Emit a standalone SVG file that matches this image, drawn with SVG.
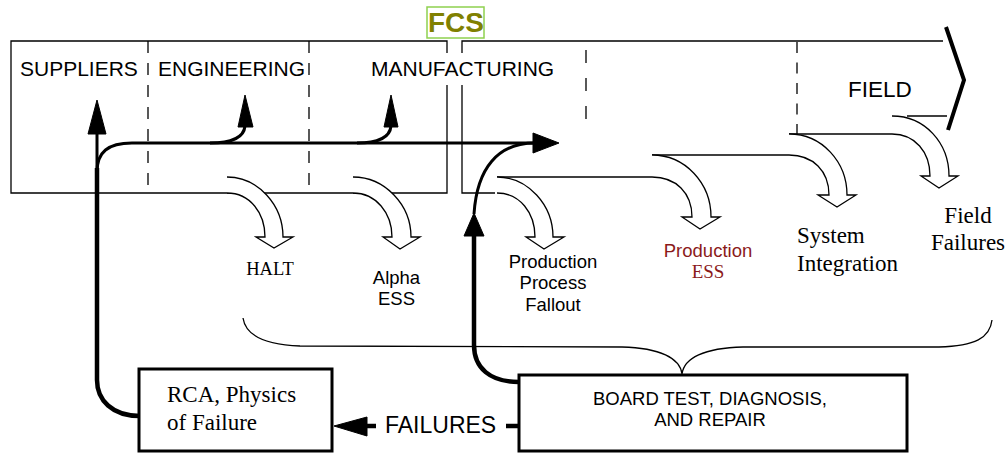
<svg xmlns="http://www.w3.org/2000/svg" width="1007" height="454" viewBox="0 0 1007 454">
<style>
.ln{fill:none;stroke:#000;stroke-width:1.3}
.dash{fill:none;stroke:#000;stroke-width:1.3;stroke-dasharray:12 10}
.thk{fill:none;stroke:#000;stroke-width:3}
.thk2{fill:none;stroke:#000;stroke-width:4.5}
.hd{fill:#000;stroke:#000;stroke-width:1}
.ha{fill:#fff;stroke:#000;stroke-width:1.3;stroke-linejoin:miter}
.sans{font-family:"Liberation Sans",Arial,sans-serif;fill:#000}
.serif{font-family:"Liberation Serif","Times New Roman",serif;fill:#000}
.box{fill:#fff;stroke:#000;stroke-width:3}
</style>
<rect width="1007" height="454" fill="#fff"/>

<g id="phases">
  <path class="ln" d="M447,53 L447,41 L11,41 L11,193 L447,193 L447,85"/>
  <path class="dash" d="M148,41 L148,193"/>
  <path class="dash" d="M309,41 L309,193"/>
  <path class="ln" d="M462,53 L462,41 L943,41"/>
  <path class="ln" d="M462,85 L462,193 L495,193"/>
  <path class="ln" d="M497,177 L652,177"/>
  <path class="ln" d="M652,155 L789,155"/>
  <path class="ln" d="M789,134 L892,134"/>
  <path class="ln" d="M907,116 L947,116"/>
  <path class="dash" d="M586,50 L586,119" style="stroke-dasharray:13 15"/>
  <path class="dash" d="M797,42 L797,134" style="stroke-dasharray:11 9.5"/>
  <path fill="none" stroke="#000" stroke-width="4" d="M946,27 L964,80 L948,130"/>
  <text class="sans" x="20" y="76" font-size="21">SUPPLIERS</text>
  <text class="sans" x="158" y="76" font-size="21">ENGINEERING</text>
  <text class="sans" x="371" y="76" font-size="21">MANUFACTURING</text>
  <text class="sans" x="848" y="97" font-size="22.5">FIELD</text>
</g>

<g id="fcs">
  <rect x="427" y="7" width="57" height="31" fill="#fff" stroke="#8fd14f" stroke-width="1.5"/>
  <text x="456" y="31.5" text-anchor="middle" font-family="'Liberation Sans',Arial,sans-serif" font-weight="bold" font-size="28" fill="#808000">FCS</text>
</g>

<g id="stage-arrows">
  <g id="halt">
    <path class="ha" d="M227,177 C258,177 283,205 283,237 L293,237 L274,248 L256,237 L265,237 C265,213 250,193 227,193"/>
    <text class="serif" x="270" y="275" text-anchor="middle" font-size="18.5">HALT</text>
  </g>
  <g id="alpha-ess">
    <path class="ha" d="M353,177 C385,177 411,205 411,237 L420,237 L400,249 L383,237 L392,237 C392,213 376,193 353,193"/>
    <text class="sans" x="396.5" y="284" text-anchor="middle" font-size="18.5">Alpha</text>
    <text class="sans" x="396.5" y="305" text-anchor="middle" font-size="18.5">ESS</text>
  </g>
  <g id="production-process-fallout">
    <path class="ha" d="M497,177 C528,177 553,205 553,237 L564,237 L544,249 L526,237 L535,237 C535,213 520,193 497,193"/>
    <text class="sans" x="553" y="268" text-anchor="middle" font-size="18.5">Production</text>
    <text class="sans" x="553" y="289" text-anchor="middle" font-size="18.5">Process</text>
    <text class="sans" x="553" y="311" text-anchor="middle" font-size="18.5">Fallout</text>
  </g>
  <g id="production-ess">
    <path class="ha" d="M652,155 C685,155 711,183 711,217 L720,217 L700,229 L682,217 L692,217 C692,193 676,177 652,177"/>
    <text class="sans" x="708" y="257" text-anchor="middle" font-size="18.5" style="fill:#8b1a1a">Production</text>
    <text class="serif" x="708" y="278" text-anchor="middle" font-size="19" style="fill:#8b1a1a">ESS</text>
  </g>
  <g id="system-integration">
    <path class="ha" d="M789,134 C822,134 847,162 847,195 L856,195 L837,207 L818,195 L829,195 C829,171 813,155 789,155"/>
    <text class="serif" x="797" y="243" font-size="23">System</text>
    <text class="serif" x="797" y="271" font-size="23">Integration</text>
  </g>
  <g id="field-failures">
    <path class="ha" d="M892,116 C925,116 949,143 949,176 L958,176 L939,188 L921,176 L930,176 C930,152 915,134 892,134"/>
    <text class="serif" x="968" y="223" text-anchor="middle" font-size="23">Field</text>
    <text class="serif" x="968" y="250" text-anchor="middle" font-size="23">Failures</text>
  </g>
</g>

<g id="rca">
  <rect class="box" x="139" y="369" width="193" height="82"/>
  <text class="serif" x="167" y="402" font-size="23">RCA, Physics</text>
  <text class="serif" x="167" y="430" font-size="23">of Failure</text>
</g>

<g id="board-test">
  <rect class="box" x="519" y="375" width="388" height="76"/>
  <text class="sans" x="710" y="405" text-anchor="middle" font-size="18.5">BOARD TEST, DIAGNOSIS,</text>
  <text class="sans" x="710" y="426" text-anchor="middle" font-size="18.5">AND REPAIR</text>
</g>

<g id="connectors">
  <path class="ln" d="M243,318 C246,338 270,345 300,346 L622,347 C660,348 680,358 682,374 C684,358 704,348 743,347 L939,347 C975,346 990,338 992,320"/>
  <path class="thk2" d="M140,416 C112,416 97,400 97,380 L97,168"/>
  <path class="thk" d="M97,168 L97,133"/>
  <polygon class="hd" points="88,134 97,100 106,134"/>
  <path class="thk" d="M97,172 C97,152 108,143 132,143 L534,143"/>
  <polygon class="hd" points="533,133 559,143 533,153"/>
  <path class="thk" d="M210,143 C232,143 244,137 245,126"/>
  <polygon class="hd" points="238,127 245,95 253,127"/>
  <path class="thk" d="M357,143 C379,143 390,137 391,126"/>
  <polygon class="hd" points="384,127 391,95 398,127"/>
  <path class="thk2" d="M519,382 C490,382 474,368 474,345 L474,236"/>
  <polygon class="hd" points="464,236 474,213 484,236"/>
  <path class="thk" d="M474,214 C477,168 498,143 535,143"/>
  <path class="thk2" d="M519,426 L506,426"/>
  <path class="thk2" d="M376,426 L366,426"/>
  <polygon class="hd" points="367,417 334,426 367,436"/>
  <text class="sans" x="385" y="433" font-size="23">FAILURES</text>
</g>
</svg>
